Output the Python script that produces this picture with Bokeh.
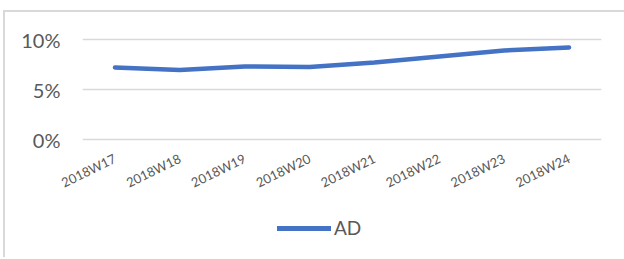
import math
from bokeh.plotting import figure
from bokeh.layouts import column
from bokeh.models import (Legend, LegendItem, FactorRange, Range1d, NumeralTickFormatter,
                          FixedTicker)
from bokeh.embed import file_html
from bokeh.resources import INLINE

weeks = ["2018W17", "2018W18", "2018W19", "2018W20", "2018W21", "2018W22", "2018W23", "2018W24"]
ad = [0.072, 0.0695, 0.073, 0.0725, 0.077, 0.083, 0.089, 0.092]
y_ticks = [0.0, 0.05, 0.10]
series_name = "AD"
line_color = "#4472C4"

main = figure(
    x_range=FactorRange(*weeks, range_padding=0),
    y_range=Range1d(-0.003, 0.103),
    width=619, height=188,
    min_border_left=77, min_border_right=23, min_border_top=24, min_border_bottom=58,
    output_backend="svg", toolbar_location=None,
)
main.outline_line_color = None
main.background_fill_color = "white"
main.border_fill_color = "white"

r = main.line(weeks, ad, line_color=line_color, line_width=4.5, line_cap="round", line_join="round")

main.xgrid.grid_line_color = None
main.ygrid.grid_line_color = "#d9d9d9"
main.ygrid.grid_line_width = 1.5

main.yaxis.ticker = FixedTicker(ticks=y_ticks)
main.yaxis.formatter = NumeralTickFormatter(format="0%")
for ax in (main.xaxis[0], main.yaxis[0]):
    ax.axis_line_color = None
    ax.major_tick_line_color = None
    ax.minor_tick_line_color = None
    ax.major_label_text_color = "#595959"
    ax.major_label_text_font = "Lato"
main.yaxis.major_label_text_font_size = "20px"
main.yaxis.major_label_standoff = 16
main.xaxis.major_label_text_font_size = "13px"
main.xaxis.major_label_orientation = math.radians(26)
main.xaxis.major_label_standoff = 9

# legend strip below the chart (its line sits outside the visible y range)
leg = figure(width=619, height=57,
             x_range=FactorRange(*weeks, range_padding=0), y_range=Range1d(1, 2),
             x_axis_type=None, y_axis_type=None,
             min_border=0, output_backend="svg", toolbar_location=None)
leg.grid.visible = False
leg.outline_line_color = None
leg.border_fill_color = "white"
leg.background_fill_color = "white"
lr = leg.line(weeks, ad, line_color=line_color, line_width=5, line_cap="round")
legend = Legend(items=[LegendItem(label=series_name, renderers=[lr])],
                location=(195, 18), orientation="horizontal",
                padding=0, margin=0, spacing=0,
                glyph_width=54, glyph_height=20, label_standoff=3,
                border_line_color=None, background_fill_alpha=0,
                label_text_font="Lato", label_text_font_size="19px",
                label_text_color="#595959")
leg.add_layout(legend, "center")

p = column(main, leg, spacing=0,
           styles={"margin-left": "3px", "margin-top": "10px",
                   "border-left": "2px solid #d9d9d9", "border-top": "2px solid #d9d9d9"})

open("out.html", "w").write(file_html(p, INLINE))
